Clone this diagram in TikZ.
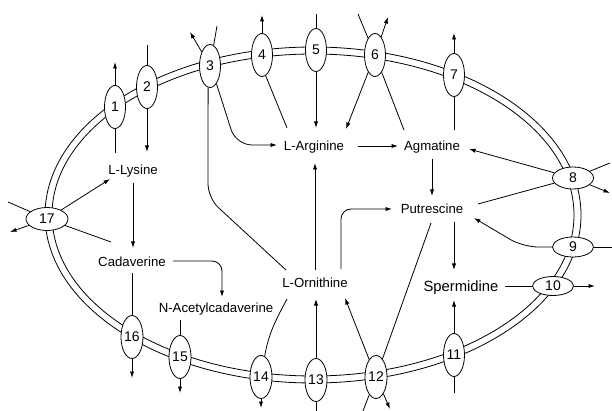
\documentclass[tikz,border=0pt]{standalone}
\usepackage{fontspec}
\setmainfont{Liberation Sans}
\usetikzlibrary{arrows.meta,shapes.geometric}

\begin{document}
\begin{tikzpicture}[x=1pt,y=-1pt, line width=0.8pt,
  carrier/.style={ellipse, draw, fill=white, inner sep=0pt,
    font=\fontsize{14}{14}\selectfont},
  vcar/.style={carrier, minimum width=21pt, minimum height=43pt},
  hcar/.style={carrier, minimum width=41pt, minimum height=22pt},
  metab/.style={font=\fontsize{13.2}{14}\selectfont, inner sep=0pt, anchor=base},
  arr/.style={-{Latex[length=6.5pt,width=4.2pt]}},
]
\useasboundingbox (0,0) rectangle (612,411);
\fill[white] (0,0) rectangle (612,411);

% cell membrane (double line)
\draw (313,215) ellipse [x radius=268pt, y radius=168pt];
\draw (313,215) ellipse [x radius=261pt, y radius=161pt];

% transporters in the membrane
\node[vcar] (e1)  at (115,107) {1};
\node[vcar] (e2)  at (147,87)  {2};
\node[vcar] (e3)  at (210,66)  {3};
\node[vcar] (e4)  at (262,55)  {4};
\node[vcar] (e5)  at (316,50)  {5};
\node[vcar] (e6)  at (375,55)  {6};
\node[vcar] (e7)  at (454,75)  {7};
\node[hcar] (e8)  at (573,178) {8};
\node[hcar, minimum height=20pt] (e9)  at (573,247) {9};
\node[hcar, minimum height=19pt] (e10) at (553,286) {10};
\node[vcar] (e11) at (454,355) {11};
\node[vcar] (e12) at (376,377) {12};
\node[vcar] (e13) at (316,380) {13};
\node[vcar] (e14) at (261,377) {14};
\node[vcar] (e15) at (180,357) {15};
\node[vcar] (e16) at (132,337) {16};
\node[hcar, minimum height=23pt, minimum width=42pt] (e17) at (47,219) {17};

% metabolites (base line = visual centre + half cap height)
\node[metab] (lys)  at (133,174.7) {L-Lysine};
\node[metab] (cad)  at (132,266.7) {Cadaverine};
\node[metab] (nac)  at (216,312.7) {N-Acetylcadaverine};
\node[metab] (larg) at (314,150.7) {L-Arginine};
\node[metab] (agm)  at (432,150.7) {Agmatine};
\node[metab] (put)  at (432,213.7) {Putrescine};
\node[metab, font=\fontsize{14.8}{16}\selectfont] (spd) at (461,291.3) {Spermidine};
\node[metab] (lorn) at (315,287.7) {L-Ornithine};

% connector end points
\coordinate (k1in)  at (115,153);  \coordinate (k1out) at (115,62);
\coordinate (k2out) at (147,45);   \coordinate (k2in)  at (147,152);
\coordinate (k3out) at (190,32);   \coordinate (k3top) at (217,26);
\coordinate (k3c1)  at (236,145);  \coordinate (k3c2)  at (208,198);
\coordinate (k4out) at (262,15);   \coordinate (k4in)  at (287,128);
\coordinate (k5out) at (316,14);
\coordinate (k6a)   at (358,14);   \coordinate (k6b)   at (388,17);
\coordinate (k6c)   at (346,129);  \coordinate (k6d)   at (404,130);
\coordinate (k7out) at (454,33);   \coordinate (k7in)  at (454,130);
\coordinate (k8a)   at (610,163);  \coordinate (k8b)   at (610,193);
\coordinate (k9c)   at (523,247);  \coordinate (k9out) at (612,247);
\coordinate (k10out) at (595,286);
\coordinate (k11in) at (454,393);
\coordinate (k12a)  at (363,411);  \coordinate (k12b)  at (390,409);
\coordinate (k13in) at (316,411);
\coordinate (k14out) at (261,408);
\coordinate (k15in) at (180,320);  \coordinate (k15out) at (180,393);
\coordinate (k16out) at (132,378);
\coordinate (k17a)  at (8,202);    \coordinate (k17b)  at (10,232);

\coordinate (lys-s)   at (133,183);  \coordinate (lys-sw)  at (110,179);
\coordinate (cad-n)   at (133,248);  \coordinate (cad-nw)  at (111,242);
\coordinate (cad-e)   at (173,261);  \coordinate (cad-s)   at (132,273);
\coordinate (nac-n)   at (222,297);
\coordinate (larg-n)  at (316,128);  \coordinate (larg-w)  at (277,145);
\coordinate (larg-e)  at (358,146);  \coordinate (larg-s)  at (315,163);
\coordinate (agm-w)   at (398,146);  \coordinate (agm-e)   at (469,149);
\coordinate (agm-s)   at (432,159);
\coordinate (put-n)   at (432,196);  \coordinate (put-w)   at (392,209);
\coordinate (put-e)   at (474,218);  \coordinate (put-ne)  at (478,204);
\coordinate (put-s)   at (454,222);  \coordinate (put-sw)  at (431,223);
\coordinate (spd-n)   at (454,270);  \coordinate (spd-s)   at (454,300);
\coordinate (spd-e)   at (505,286);
\coordinate (lorn-n)  at (315,270);  \coordinate (lorn-ne) at (341,269);
\coordinate (lorn-nw) at (286,270);  \coordinate (lorn-s)  at (316,299);
\coordinate (lorn-se) at (345,298);  \coordinate (lorn-sw) at (287,299);

% transport through the membrane
\draw (k1in) -- (e1);  \draw[arr] (e1) -- (k1out);
\draw (k2out) -- (e2); \draw[arr] (e2) -- (k2in);
\draw[arr] (e3) -- (k3out);
\draw (k3top) -- (e3);
\draw[arr, rounded corners=16pt] (e3.-70) -- (k3c1) -- (larg-w);
\draw[rounded corners=14pt] (e3.-95) -- (k3c2) -- (lorn-nw);
\draw[arr] (e4) -- (k4out); \draw (e4.-80) -- (k4in);
\draw (k5out) -- (e5); \draw[arr] (e5) -- (larg-n);
\draw (k6a) -- (e6); \draw[arr] (e6) -- (k6b);
\draw[arr] (e6) -- (k6c); \draw (e6) -- (k6d);
\draw[arr] (e7) -- (k7out); \draw (k7in) -- (e7);
\draw[arr] (e8) -- (agm-e); \draw (k8a) -- (e8);
\draw[arr] (e8) -- (k8b); \draw (e8) -- (put-ne);
\draw[arr, rounded corners=15pt] (e9) -- (k9c) -- (put-e);
\draw (k9out) -- (e9);
\draw (spd-e) -- (e10); \draw[arr] (e10) -- (k10out);
\draw[arr] (e11) -- (spd-s); \draw (k11in) -- (e11);
\draw (put-sw) -- (e12); \draw[arr] (e12) -- (lorn-se);
\draw (k12a) -- (e12); \draw[arr] (e12) -- (k12b);
\draw[arr] (e13) -- (lorn-s); \draw (k13in) -- (e13);
\draw (e14.80) to[out=80, in=-118] (lorn-sw);
\draw[arr] (e14) -- (k14out);
\draw (k15in) -- (e15); \draw[arr] (e15) -- (k15out);
\draw (cad-s) -- (e16); \draw[arr] (e16) -- (k16out);
\draw[arr] (e17) -- (lys-sw); \draw (k17a) -- (e17);
\draw[arr] (e17) -- (k17b); \draw (e17) -- (cad-nw);

% reactions inside the cell
\draw[arr] (lys-s) -- (cad-n);
\draw[arr, rounded corners=10pt] (cad-e) -| (nac-n);
\draw[arr] (larg-e) -- (agm-w);
\draw[arr] (agm-s) -- (put-n);
\draw[arr] (put-s) -- (spd-n);
\draw[arr] (lorn-n) -- (larg-s);
\draw[arr, rounded corners=10pt] (lorn-ne) |- (put-w);
\end{tikzpicture}
\end{document}
